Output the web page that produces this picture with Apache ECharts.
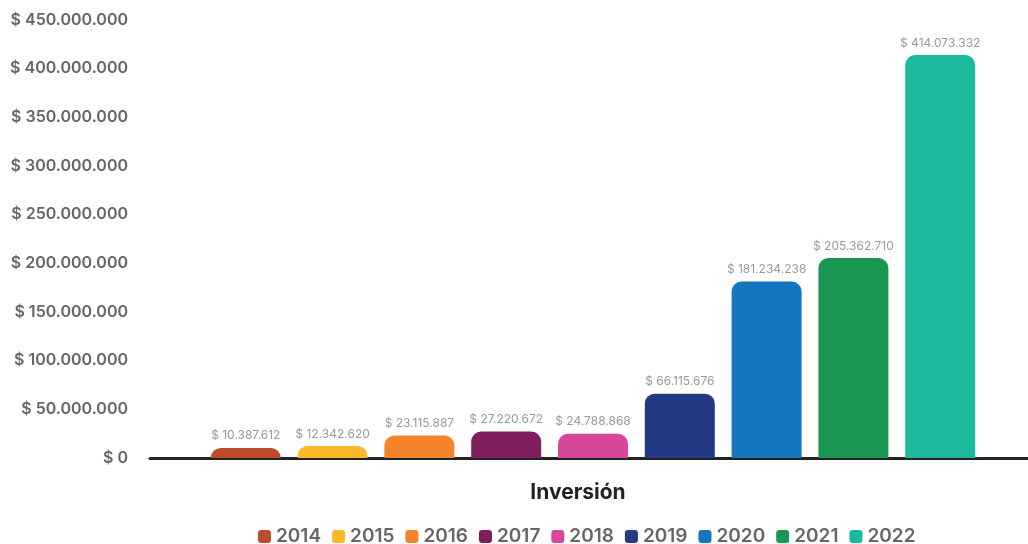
<!DOCTYPE html>
<html>
<head>
<meta charset="utf-8">
<script src="https://cdn.jsdelivr.net/npm/echarts@6/dist/echarts.min.js"></script>
<style>
html,body{margin:0;padding:0;background:#fff;}
#chart{width:1028px;height:544px;}
</style>
</head>
<body>
<div id="chart"></div>
<script>
const categories = ['Inversión'];
const years = ['2014','2015','2016','2017','2018','2019','2020','2021','2022'];
const values = [10387612, 12342620, 23115887, 27220672, 24788868, 66115676, 181234238, 205362710, 414073332];
const colors = ['#BD4B2E','#FBB82A','#F5832A','#7D1F5D','#D8489A','#253A85','#1575BE','#1A9853','#1BBA9D'];

function fmt(v){
  return '$ ' + String(v).replace(/\B(?=(\d{3})+(?!\d))/g, '.');
}

const FONT = 'Inter';
const chart = echarts.init(document.getElementById('chart'));
const series = years.map((y, i) => ({
  name: y,
  type: 'bar',
  data: [values[i]],
  barWidth: 70,
  barGap: '24%',
  itemStyle: { color: colors[i], borderRadius: [10, 10, 0, 0] },
  label: {
    show: true, position: 'top', distance: 6,
    formatter: p => fmt(p.value),
    color: '#999', fontFamily: FONT, fontSize: 12, fontWeight: 400
  }
}));

chart.setOption({
  animation: false,
  color: colors,
  textStyle: { fontFamily: FONT },
  grid: { left: 150, width: 886, top: 20, bottom: 86, containLabel: false, outerBoundsMode: 'none' },
  legend: {
    bottom: -7, left: 253,
    icon: 'roundRect', itemWidth: 13, itemHeight: 13, itemGap: 11,
    textStyle: { color: '#666', fontSize: 19, fontWeight: 600, fontFamily: FONT, padding: [0,0,0,0] },
    data: years
  },
  xAxis: {
    type: 'category',
    data: categories,
    axisLine: { lineStyle: { color: '#222', width: 3 } },
    axisTick: { show: false },
    axisLabel: { color: '#222', fontSize: 21, fontWeight: 700, fontFamily: FONT, margin: 24, padding: [0, 30, 0, 0] }
  },
  yAxis: {
    type: 'value',
    min: 0, max: 450000000, interval: 50000000,
    splitLine: { show: false },
    axisLine: { show: false },
    axisTick: { show: false },
    axisLabel: {
      color: '#666', fontSize: 16, fontWeight: 600, fontFamily: FONT, margin: 22,
      formatter: v => fmt(v)
    }
  },
  series: series
});
</script>
</body>
</html>
